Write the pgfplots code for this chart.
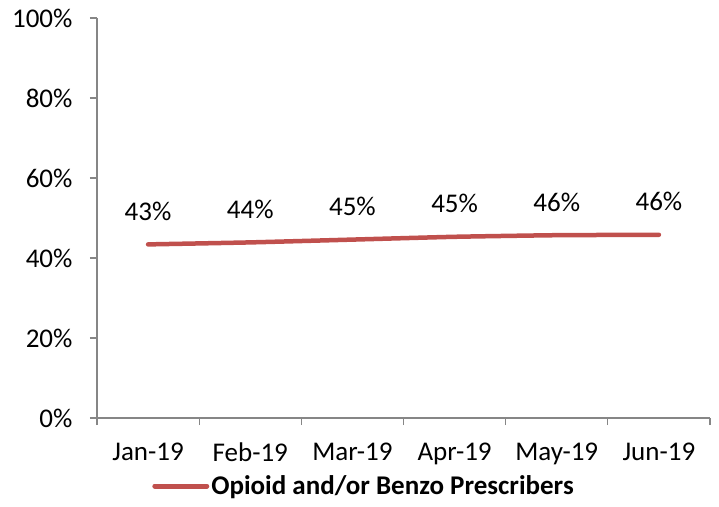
\documentclass[border=0pt]{standalone}
\usepackage{pgfplots}
\pgfplotsset{compat=1.18}
\usepackage{fontspec}
\setmainfont{Carlito}
\definecolor{linered}{HTML}{C0504D}
\definecolor{axgray}{HTML}{868686}
\begin{document}
\begin{tikzpicture}[font=\fontsize{27bp}{32bp}\selectfont]
\begin{axis}[
  scale only axis, width=613bp, height=400bp,
  xmin=-0.5, xmax=5.5, ymin=0, ymax=100,
  axis x line*=bottom, axis y line*=left,
  axis line style={axgray, line width=1.2bp},
  every tick/.style={axgray, line width=1.2bp},
  tick align=outside, major tick length=7bp,
  xtick={-0.5,0.5,1.5,2.5,3.5,4.5,5.5},
  xticklabels={Jan-19,Feb-19,Mar-19,Apr-19,May-19,Jun-19},
  x tick label as interval=true,
  ytick={0,20,40,60,80,100},
  yticklabel={\pgfmathprintnumber{\tick}\%},
  /pgf/number format/assume math mode=true,
  xticklabel style={yshift=-14bp},
  yticklabel style={xshift=-14bp},
  clip=false,
  legend style={draw=none, at={(axis description cs:0.4356,-0.17)}, anchor=center,
    font=\fontsize{27bp}{32bp}\selectfont\bfseries, inner sep=0pt},
  legend image code/.code={\draw[#1, line width=5bp, line cap=round] (0bp,0bp) -- (52bp,0bp);},
]
\addplot[linered, line width=4.5bp, line cap=round, smooth, tension=0.3,
  nodes near coords, point meta=explicit symbolic,
  every node near coord/.style={anchor=base, yshift=24bp, black, font=\fontsize{27bp}{32bp}\selectfont}]
  table[meta=lab] {
x y lab
0 43.4 43\%
1 43.9 44\%
2 44.6 45\%
3 45.3 45\%
4 45.7 46\%
5 45.8 46\%
};
\addlegendentry{Opioid and/or Benzo Prescribers}
\end{axis}
\pgfresetboundingbox
\path (current axis.south west) ++(-97bp,-89bp) rectangle ([shift={(9bp,18bp)}]current axis.north east);
\end{tikzpicture}
\end{document}
